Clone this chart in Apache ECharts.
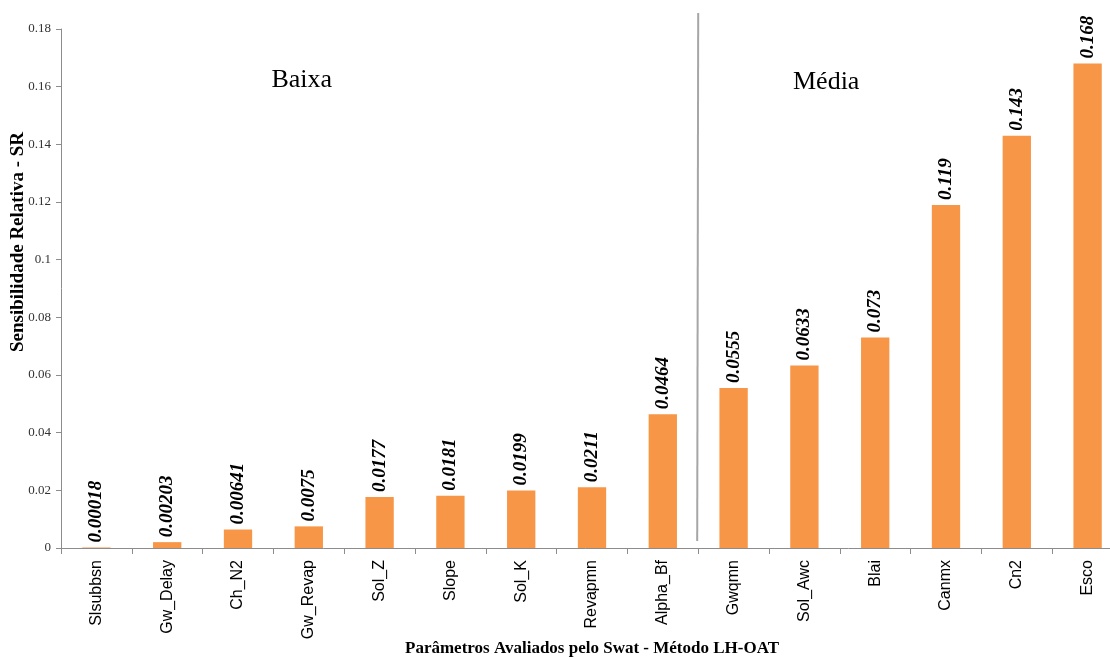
<!DOCTYPE html>
<html>
<head>
<meta charset="utf-8">
<script src="https://cdn.jsdelivr.net/npm/echarts@6/dist/echarts.min.js"></script>
<style>
  html, body { margin: 0; padding: 0; background: #fff; }
  #chart { width: 1110px; height: 659px; }
</style>
</head>
<body>
<div id="chart"></div>
<script>
// Parameters evaluated by SWAT (LH-OAT) and their relative sensitivity
const categories = ['Slsubbsn', 'Gw_Delay', 'Ch_N2', 'Gw_Revap', 'Sol_Z', 'Slope', 'Sol_K',
  'Revapmn', 'Alpha_Bf', 'Gwqmn', 'Sol_Awc', 'Blai', 'Canmx', 'Cn2', 'Esco'];
const sensitivity = [0.00018, 0.00203, 0.00641, 0.0075, 0.0177, 0.0181, 0.0199,
  0.0211, 0.0464, 0.0555, 0.0633, 0.073, 0.119, 0.143, 0.168];
const classNames = ['Baixa', 'Média'];
const yTitle = 'Sensibilidade Relativa - SR';
const lastLowIndex = 8; // Alpha_Bf closes the "Baixa" group

const serif = '"Liberation Serif", "Times New Roman", serif';
const sans = '"Liberation Sans", Arial, sans-serif';

const chart = echarts.init(document.getElementById('chart'));
chart.setOption({
  animation: false,
  grid: { left: 61, top: 29, width: 1062, bottom: 111, outerBoundsMode: 'none', containLabel: false },
  xAxis: {
    type: 'category',
    data: categories,
    name: 'Parâmetros Avaliados pelo Swat - Método LH-OAT',
    nameLocation: 'middle',
    nameGap: 92,
    nameMoveOverlap: false,
    nameTextStyle: { fontFamily: serif, fontWeight: 'bold', fontSize: 17, color: '#000' },
    axisLine: { lineStyle: { color: '#8c8c8c', width: 1 } },
    axisTick: { show: true, length: 6, lineStyle: { color: '#8c8c8c' } },
    axisLabel: { rotate: 90, fontFamily: sans, fontSize: 16, color: '#000', margin: 12 }
  },
  yAxis: {
    type: 'value',
    min: 0, max: 0.18, interval: 0.02,
    axisLine: { show: true, lineStyle: { color: '#8c8c8c', width: 1 } },
    axisTick: { show: true, length: 5, lineStyle: { color: '#8c8c8c' } },
    splitLine: { show: false },
    axisLabel: { fontFamily: serif, fontSize: 13, color: '#333', margin: 10 }
  },
  series: [{
    type: 'bar',
    data: sensitivity,
    barWidth: '40%',
    itemStyle: { color: '#F79646' },
    label: {
      show: true,
      position: 'top',
      rotate: 90,
      align: 'left',
      verticalAlign: 'middle',
      distance: 5,
      fontFamily: serif,
      fontStyle: 'italic',
      fontWeight: 'bold',
      fontSize: 19,
      color: '#000',
      formatter: p => String(p.value)
    }
  }]
});

// Divider between the two sensitivity classes, class titles and the y-axis title
function drawOverlay() {
  const a = chart.convertToPixel({ xAxisIndex: 0 }, categories[lastLowIndex]);
  const b = chart.convertToPixel({ xAxisIndex: 0 }, categories[lastLowIndex + 1]);
  const xDiv = (a + b) / 2;
  const yTop = chart.convertToPixel({ yAxisIndex: 0 }, 0.18) - 16;
  const yBot = chart.convertToPixel({ yAxisIndex: 0 }, 0) - 7;
  const lowCenter = chart.convertToPixel({ xAxisIndex: 0 }, categories[3]) - 7;
  const midCenter = xDiv + 128;
  chart.setOption({
    graphic: [
      { type: 'line', shape: { x1: xDiv, y1: yTop, x2: xDiv - 1, y2: yBot },
        style: { stroke: '#a6a6a6', lineWidth: 2 } },
      { type: 'text', x: lowCenter, y: 80,
        style: { text: classNames[0], font: '26px ' + serif, fill: '#000',
                 textAlign: 'center', textVerticalAlign: 'middle' } },
      { type: 'text', x: midCenter, y: 82,
        style: { text: classNames[1], font: '26px ' + serif, fill: '#000',
                 textAlign: 'center', textVerticalAlign: 'middle' } },
      { type: 'text', x: 18, y: 242, rotation: Math.PI / 2,
        style: { text: yTitle, font: 'bold 19px ' + serif, fill: '#000',
                 textAlign: 'center', textVerticalAlign: 'middle' } }
    ]
  });
}
drawOverlay();
</script>
</body>
</html>
